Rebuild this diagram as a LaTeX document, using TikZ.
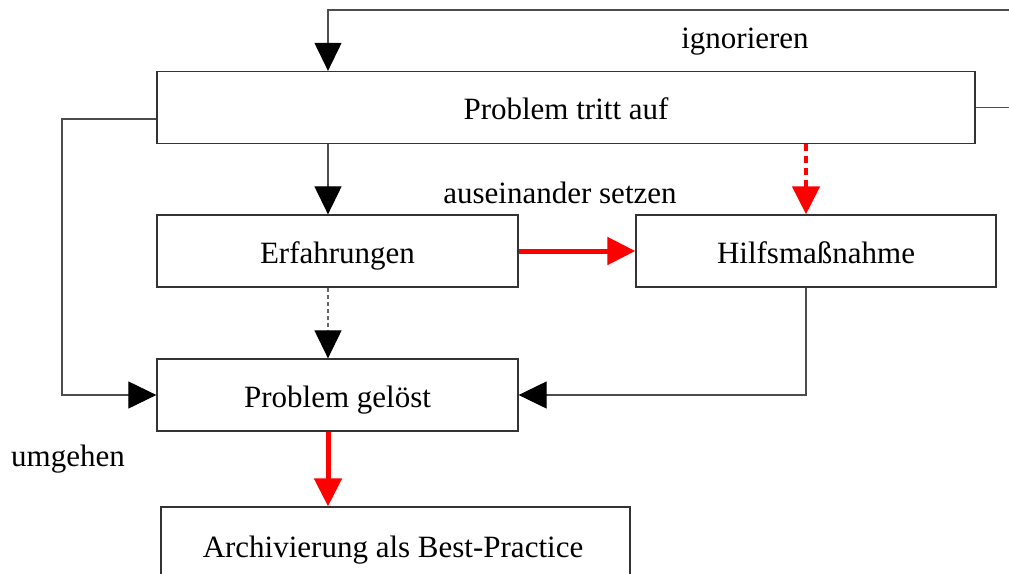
\documentclass[tikz,border=0pt]{standalone}
\usepackage{fontspec}
\setmainfont{Liberation Serif}
\usetikzlibrary{arrows.meta}

\begin{document}
\begin{tikzpicture}[x=1pt,y=-1pt,
  box/.style={draw=black!80,line width=1.3pt,minimum height=72pt,inner sep=0pt,
    text height=32pt,text depth=8pt,font=\fontsize{31}{36}\selectfont},
  lbl/.style={inner sep=0pt,font=\fontsize{31}{36}\selectfont},
  conn/.style={draw=black!70,line width=1.2pt},
  blackhead/.style={-{Triangle[width=27pt,length=28pt,color=black,fill=black]}},
  redhead/.style={-{Triangle[width=27pt,length=28pt,color=red,fill=red]}},
  redline/.style={draw=red,line width=5pt},
  reddash/.style={draw=red,line width=4.5pt,dash pattern=on 7pt off 5pt},
  greydash/.style={draw=black!60,line width=1.2pt,dash pattern=on 4pt off 3pt}]

\useasboundingbox (0,0) rectangle (1009,573);

% boxes
\node[box,minimum width=818pt] (auf) at (566,107.5) {Problem tritt auf};
\node[box,minimum width=361pt] (erf) at (337.5,251) {Erfahrungen};
\node[box,minimum width=360pt] (hilf) at (816,251) {Hilfsmaßnahme};
\node[box,minimum width=361pt] (geloest) at (337.5,395) {Problem gelöst};
\node[box,minimum width=469pt,minimum height=90pt] (arch) at (395.5,552) {};
\node[lbl,anchor=base] (archtxt) at (393,557) {Archivierung als Best-Practice};

% labels
\node[lbl,anchor=base] (ign) at (745,48) {ignorieren};
\node[lbl,anchor=base] (ausein) at (560,203) {auseinander setzen};
\node[lbl,anchor=base] (umg) at (68,466) {umgehen};

% helper coordinates for the routed connectors
\coordinate (colL) at (328,0);
\coordinate (colR) at (806,0);
\coordinate (outR) at (1020,0);
\coordinate (topRow) at (0,10);
\coordinate (leftCol) at (62,0);

% ignore loop: leaves the right side and comes back in from the top
\draw[conn,blackhead] (auf.east) -- (auf.east -| outR) -- (outR |- topRow)
  -- (colL |- topRow) -- (auf.north -| colL);

% bypass on the left
\draw[conn,blackhead] (auf.west |- 0,119) -- (leftCol |- 0,119)
  -- (leftCol |- geloest.west) -- (geloest.west);

% main flow
\draw[conn,blackhead] (auf.south -| colL) -- (erf.north -| colL);
\draw[greydash,blackhead] (erf.south -| colL) -- (geloest.north -| colL);
\draw[reddash,redhead] (auf.south -| colR) -- (hilf.north -| colR);
\draw[redline,redhead] (erf.east) -- (hilf.west);
\draw[conn,blackhead] (hilf.south -| colR) -- (colR |- geloest.east) -- (geloest.east);
\draw[redline,redhead] (geloest.south -| colL) -- (arch.north -| colL);

\end{tikzpicture}
\end{document}
